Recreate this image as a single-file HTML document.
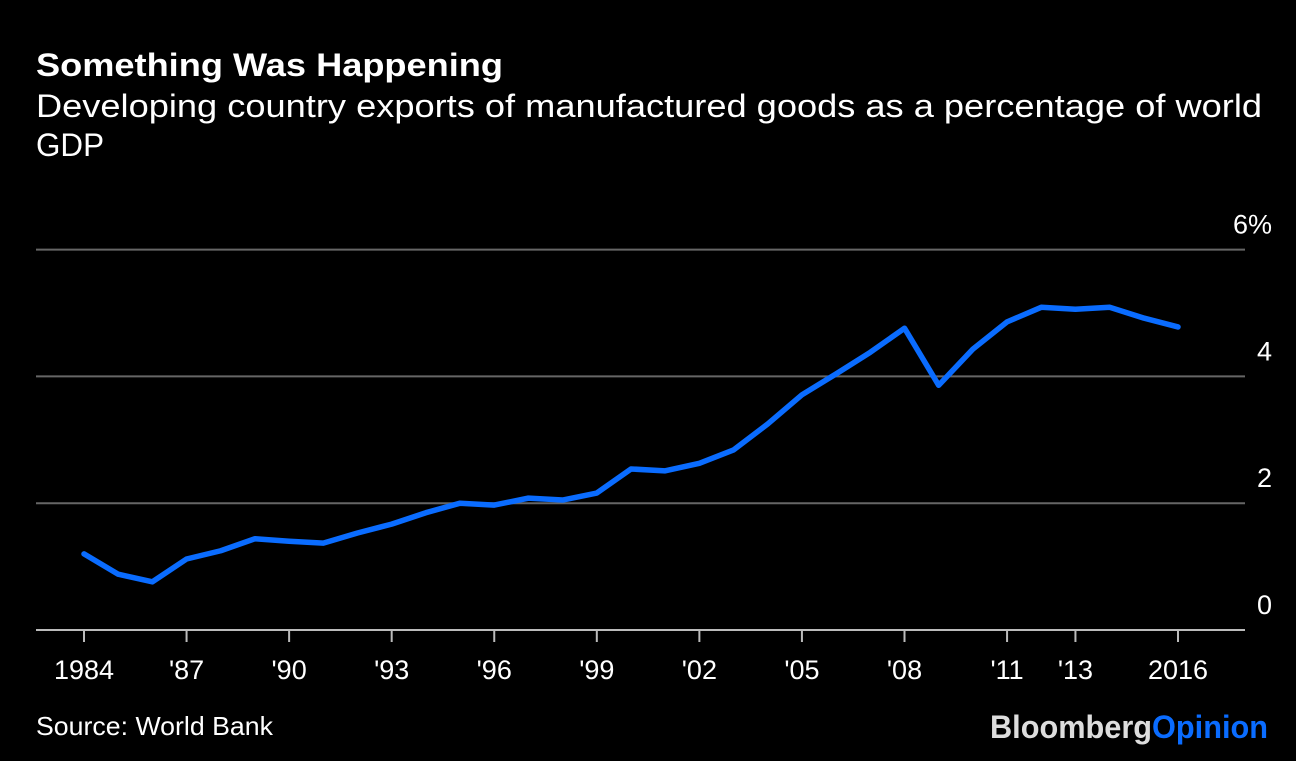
<!DOCTYPE html>
<html><head><meta charset="utf-8"><style>
body{margin:0;background:#000;width:1296px;height:756px;overflow:hidden;font-family:"Liberation Sans",sans-serif;color:#fff}
</style></head><body>
<svg width="1296" height="756" xmlns="http://www.w3.org/2000/svg">
<text x="36" y="76" font-size="32" font-weight="bold" fill="#fff" textLength="467" lengthAdjust="spacingAndGlyphs">Something Was Happening</text>
<text x="36" y="117" font-size="32" fill="#fff" textLength="1226" lengthAdjust="spacingAndGlyphs">Developing country exports of manufactured goods as a percentage of world</text>
<text x="36" y="156" font-size="32" fill="#fff" textLength="68" lengthAdjust="spacingAndGlyphs">GDP</text>
<g id="grid"></g><g id="xaxis"></g>
<polyline id="line" fill="none" stroke="#0a6cff" stroke-width="5.5" stroke-linejoin="round" stroke-linecap="round"/>
<text x="36" y="735" font-size="26" fill="#fff" textLength="237" lengthAdjust="spacingAndGlyphs">Source: World Bank</text>
<text x="990" y="738" font-size="32" font-weight="bold" textLength="278" lengthAdjust="spacingAndGlyphs"><tspan fill="#ddd">Bloomberg</tspan><tspan fill="#0a6cff">Opinion</tspan></text>
</svg>
<script>
const years=[1984,1985,1986,1987,1988,1989,1990,1991,1992,1993,1994,1995,1996,1997,1998,1999,2000,2001,2002,2003,2004,2005,2006,2007,2008,2009,2010,2011,2012,2013,2014,2015,2016];
const values=[1.20,0.88,0.76,1.12,1.25,1.44,1.40,1.37,1.53,1.67,1.85,2.00,1.97,2.08,2.05,2.16,2.54,2.51,2.63,2.84,3.25,3.71,4.04,4.38,4.76,3.86,4.43,4.86,5.09,5.06,5.09,4.92,4.78];
const yTicks=[0,2,4,6];
const yTickLabels=["0","2","4","6%"];
const xTickYears=[1984,1987,1990,1993,1996,1999,2002,2005,2008,2011,2013,2016];
const xTickLabels=["1984","'87","'90","'93","'96","'99","'02","'05","'08","'11","'13","2016"];
const NS="http://www.w3.org/2000/svg";
const x=v=>84+(v-1984)*(1094/32);
const y=v=>630-v*63.4;
const grid=document.getElementById('grid'),xa=document.getElementById('xaxis');
yTicks.forEach((t,i)=>{
 const l=document.createElementNS(NS,'line');
 l.setAttribute('x1',36);l.setAttribute('x2',1245);l.setAttribute('y1',y(t));l.setAttribute('y2',y(t));
 l.setAttribute('stroke',t===0?'#bbb':'#666');l.setAttribute('stroke-width',2);
 
 
 grid.appendChild(l);
 const tx=document.createElementNS(NS,'text');
 tx.setAttribute('x',1272);tx.setAttribute('y',y(t)-16);tx.setAttribute('text-anchor','end');
 tx.setAttribute('font-size',27);tx.setAttribute('fill','#fff');tx.textContent=yTickLabels[i];
 
 
 grid.appendChild(tx);
});
xTickYears.forEach((yr,i)=>{
 const l=document.createElementNS(NS,'line');
 l.setAttribute('x1',x(yr));l.setAttribute('x2',x(yr));l.setAttribute('y1',630);l.setAttribute('y2',642);
 l.setAttribute('stroke','#bbb');l.setAttribute('stroke-width',2);
 
 
 xa.appendChild(l);
 const tx=document.createElementNS(NS,'text');
 tx.setAttribute('x',x(yr));tx.setAttribute('y',679);tx.setAttribute('text-anchor','middle');
 tx.setAttribute('font-size',27);tx.setAttribute('fill','#fff');tx.textContent=xTickLabels[i];
 
 
 xa.appendChild(tx);
});
document.getElementById('line').setAttribute('points',years.map((yr,i)=>x(yr)+','+y(values[i])).join(' '));
</script>
</body></html>
